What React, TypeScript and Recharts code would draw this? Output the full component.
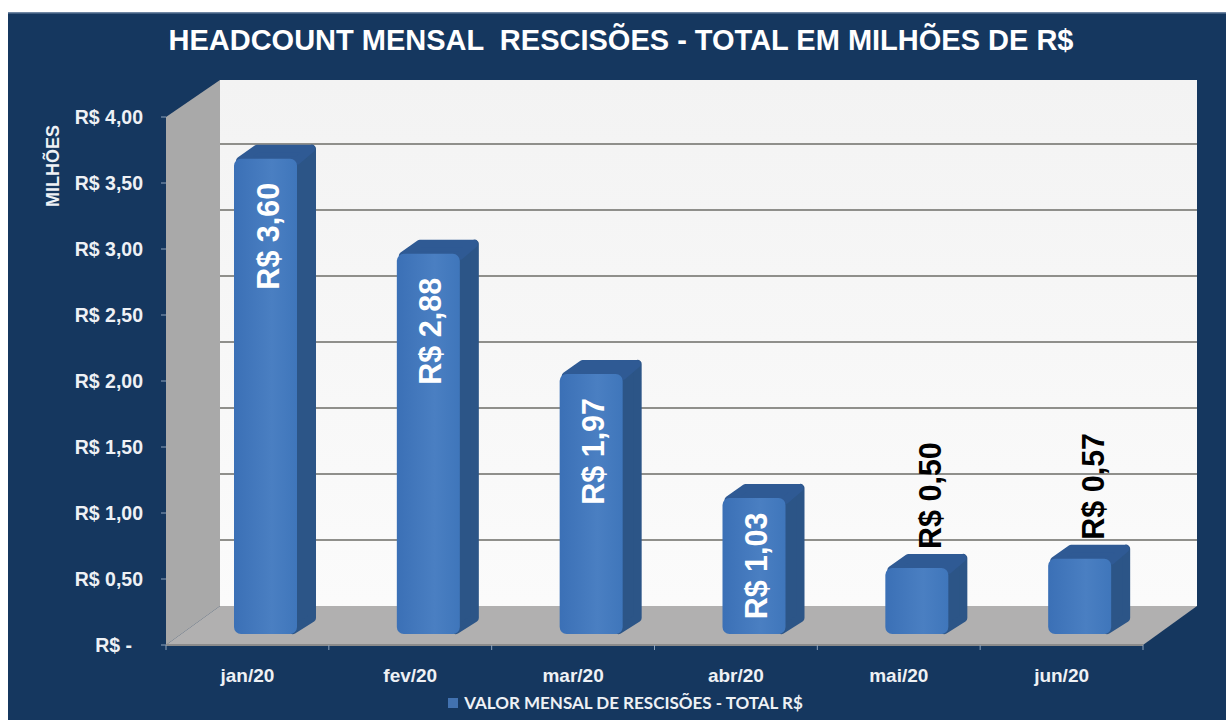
import { Bar, BarChart, CartesianGrid, LabelList, Legend, XAxis, YAxis } from "recharts";

const categories = ["jan/20", "fev/20", "mar/20", "abr/20", "mai/20", "jun/20"];
const values = [3.6, 2.88, 1.97, 1.03, 0.5, 0.57];
const yTicks = [0, 0.5, 1, 1.5, 2, 2.5, 3, 3.5, 4];

const seriesName = "VALOR MENSAL DE RESCISÕES - TOTAL R$";
const chartTitle = "HEADCOUNT MENSAL  RESCISÕES - TOTAL EM MILHÕES DE R$";

const data = categories.map((name, i) => ({ name, valor: values[i] }));

const WIDTH = 1226;
const HEIGHT = 720;
const PLOT_LEFT = 166;
const PLOT_RIGHT = 1143;
const PLOT_TOP = 117;
const PLOT_BOTTOM = 645;
const DEPTH_X = 54;
const DEPTH_Y = 39;
const WALL_TOP = 80;
const LABEL_LENGTH = 107;
const FONT = "'Liberation Sans', Arial, sans-serif";

const money = (v: number) => `R$ ${v.toFixed(2).replace(".", ",")}`;

const Bar3D = ({ x, y, width, height }: any) => {
    const fx = x + 18;
    const fy = y - 11;
    const dx = 16;
    const dy = 11;
    const r = fx + width;
    const b = fy + height;
    return (
        <g>
            <polygon
                points={`${r - 4},${fy + 4} ${r + dx - 1},${fy - dy + 1} ${r + dx - 1},${b - dy - 5} ${r - 4},${b - 4}`}
                fill="#2c5587"
                stroke="#2c5587"
                strokeWidth={8}
                strokeLinejoin="round"
            />
            <polygon
                points={`${fx + 6},${fy + 2} ${fx + dx + 7},${fy - dy + 1} ${r + dx - 2},${fy - dy + 1} ${r},${fy + 2}`}
                fill="#2f5a94"
                stroke="#2f5a94"
                strokeWidth={8}
                strokeLinejoin="round"
            />
            <rect x={fx} y={fy} width={width} height={height} rx={7} fill="url(#barFront)" />
        </g>
    );
};

const BarValueLabel = ({ x, y, width, height, value }: any) => {
    const above = value < 0.8;
    const cx = x + width / 2 + (above ? 31 : 20);
    const top = y - 11;
    const inside = top + Math.min(24, (height - LABEL_LENGTH) / 2);
    return (
        <text
            transform={`translate(${cx},${above ? y - 30 : inside}) rotate(-90)`}
            textAnchor={above ? "start" : "end"}
            dominantBaseline="central"
            fontFamily={FONT}
            fontSize={30.5}
            fontWeight={700}
            fill={above ? "#000000" : "#ffffff"}
        >
            {money(value)}
        </text>
    );
};

const YTick = ({ y, payload }: any) => (
    <g>
        <line x1={PLOT_LEFT - 5} x2={PLOT_LEFT} y1={y} y2={y} stroke="#8ea3bb" />
        <text
            x={payload.value === 0 ? 132 : 143}
            y={y}
            textAnchor="end"
            dominantBaseline="central"
            fontFamily={FONT}
            fontSize={19.5}
            fontWeight={700}
            fill="#eef1f5"
        >
            {payload.value === 0 ? "R$ -" : money(payload.value)}
        </text>
    </g>
);

const XTick = ({ x, y, payload, index }: any) => {
    const step = (PLOT_RIGHT - PLOT_LEFT) / categories.length;
    return (
        <g>
            <line x1={x - step / 2} x2={x - step / 2} y1={PLOT_BOTTOM} y2={PLOT_BOTTOM + 5} stroke="#8ea3bb" />
            {index === categories.length - 1 && (
                <line x1={x + step / 2} x2={x + step / 2} y1={PLOT_BOTTOM} y2={PLOT_BOTTOM + 5} stroke="#8ea3bb" />
            )}
            <text
                x={x}
                y={y + 22}
                textAnchor="middle"
                dominantBaseline="central"
                fontFamily={FONT}
                fontSize={19}
                fontWeight={700}
                fill="#eef1f5"
            >
                {payload.value}
            </text>
        </g>
    );
};

const LegendBox = () => (
    <div
        style={{
            height: 35,
            display: "flex",
            alignItems: "center",
            justifyContent: "center",
            paddingLeft: 108,
            boxSizing: "border-box",
            fontFamily: "Lato, sans-serif",
            fontSize: 17,
            fontWeight: 700,
            color: "#eef1f5",
        }}
    >
        <span style={{ width: 10, height: 10, marginRight: 6, background: "#4272b0", display: "inline-block" }} />
        {seriesName}
    </div>
);

const Walls = () => (
    <svg width={WIDTH} height={HEIGHT} style={{ position: "absolute", left: 0, top: 0 }}>
        <defs>
            <linearGradient id="backWall" x1="0" y1="0" x2="0" y2="1">
                <stop offset="0%" stopColor="#f3f3f3" />
                <stop offset="100%" stopColor="#fbfbfb" />
            </linearGradient>
        </defs>
        <rect x={8} y={13} width={WIDTH - 8} height={HEIGHT - 13} fill="#15375f" />
        <rect x={8} y={12} width={WIDTH - 8} height={1.5} fill="#6f86a3" />
        <rect
            x={PLOT_LEFT + DEPTH_X}
            y={WALL_TOP}
            width={PLOT_RIGHT - PLOT_LEFT}
            height={PLOT_BOTTOM - DEPTH_Y - WALL_TOP}
            fill="url(#backWall)"
        />
        <polygon
            points={`${PLOT_LEFT},${PLOT_TOP} ${PLOT_LEFT + DEPTH_X},${WALL_TOP} ${PLOT_LEFT + DEPTH_X},${PLOT_BOTTOM - DEPTH_Y} ${PLOT_LEFT},${PLOT_BOTTOM}`}
            fill="#a9a9a9"
        />
        <polygon
            points={`${PLOT_LEFT},${PLOT_BOTTOM} ${PLOT_LEFT + DEPTH_X},${PLOT_BOTTOM - DEPTH_Y} ${PLOT_RIGHT + DEPTH_X},${PLOT_BOTTOM - DEPTH_Y} ${PLOT_RIGHT},${PLOT_BOTTOM}`}
            fill="#b1b0b0"
        />
    </svg>
);

export default function App() {
    return (
        <div style={{ position: "absolute", left: 0, top: 0, width: WIDTH, height: HEIGHT, overflow: "hidden", background: "#ffffff" }}>
            <Walls />
            <BarChart
                width={WIDTH}
                height={HEIGHT}
                data={data}
                margin={{ top: PLOT_TOP, right: WIDTH - PLOT_RIGHT, bottom: 0, left: 0 }}
            >
                <defs>
                    <linearGradient id="barFront" x1="0" y1="0" x2="1" y2="0">
                        <stop offset="0%" stopColor="#3b70b6" />
                        <stop offset="60%" stopColor="#4a7fc2" />
                        <stop offset="100%" stopColor="#3f76bb" />
                    </linearGradient>
                </defs>
                <CartesianGrid
                    vertical={false}
                    horizontal={({ x1, x2, y1, y2, key, index }: any) =>
                        y1 >= PLOT_BOTTOM || y1 <= PLOT_TOP ? (
                            <g key={key ?? index} />
                        ) : (
                            <line
                                key={key ?? index}
                                x1={x1 + DEPTH_X}
                                x2={x2 + DEPTH_X}
                                y1={y1 - DEPTH_Y}
                                y2={y2 - DEPTH_Y}
                                stroke="#8f8f8b"
                                strokeWidth={2}
                            />
                        )
                    }
                />
                <XAxis
                    dataKey="name"
                    height={40}
                    axisLine={{ stroke: "#8b8b8b", strokeWidth: 2 }}
                    tickLine={false}
                    interval={0}
                    tick={<XTick />}
                />
                <YAxis
                    width={PLOT_LEFT}
                    domain={[0, 4]}
                    ticks={yTicks}
                    axisLine={false}
                    tickLine={false}
                    interval={0}
                    tick={<YTick />}
                />
                <Legend verticalAlign="bottom" content={<LegendBox />} />
                <Bar dataKey="valor" name={seriesName} barSize={63} shape={<Bar3D />} isAnimationActive={false}>
                    <LabelList dataKey="valor" content={<BarValueLabel />} />
                </Bar>
                <text
                    x={621}
                    y={40}
                    textAnchor="middle"
                    dominantBaseline="central"
                    fontFamily={FONT}
                    fontSize={29}
                    fontWeight={700}
                    fill="#ffffff"
                    style={{ whiteSpace: "pre" }}
                >
                    {chartTitle}
                </text>
                <text
                    transform="translate(53,166) rotate(-90)"
                    textAnchor="middle"
                    dominantBaseline="central"
                    fontFamily={FONT}
                    fontSize={18}
                    fontWeight={700}
                    fill="#eef1f5"
                >
                    MILHÕES
                </text>
            </BarChart>
        </div>
    );
}
